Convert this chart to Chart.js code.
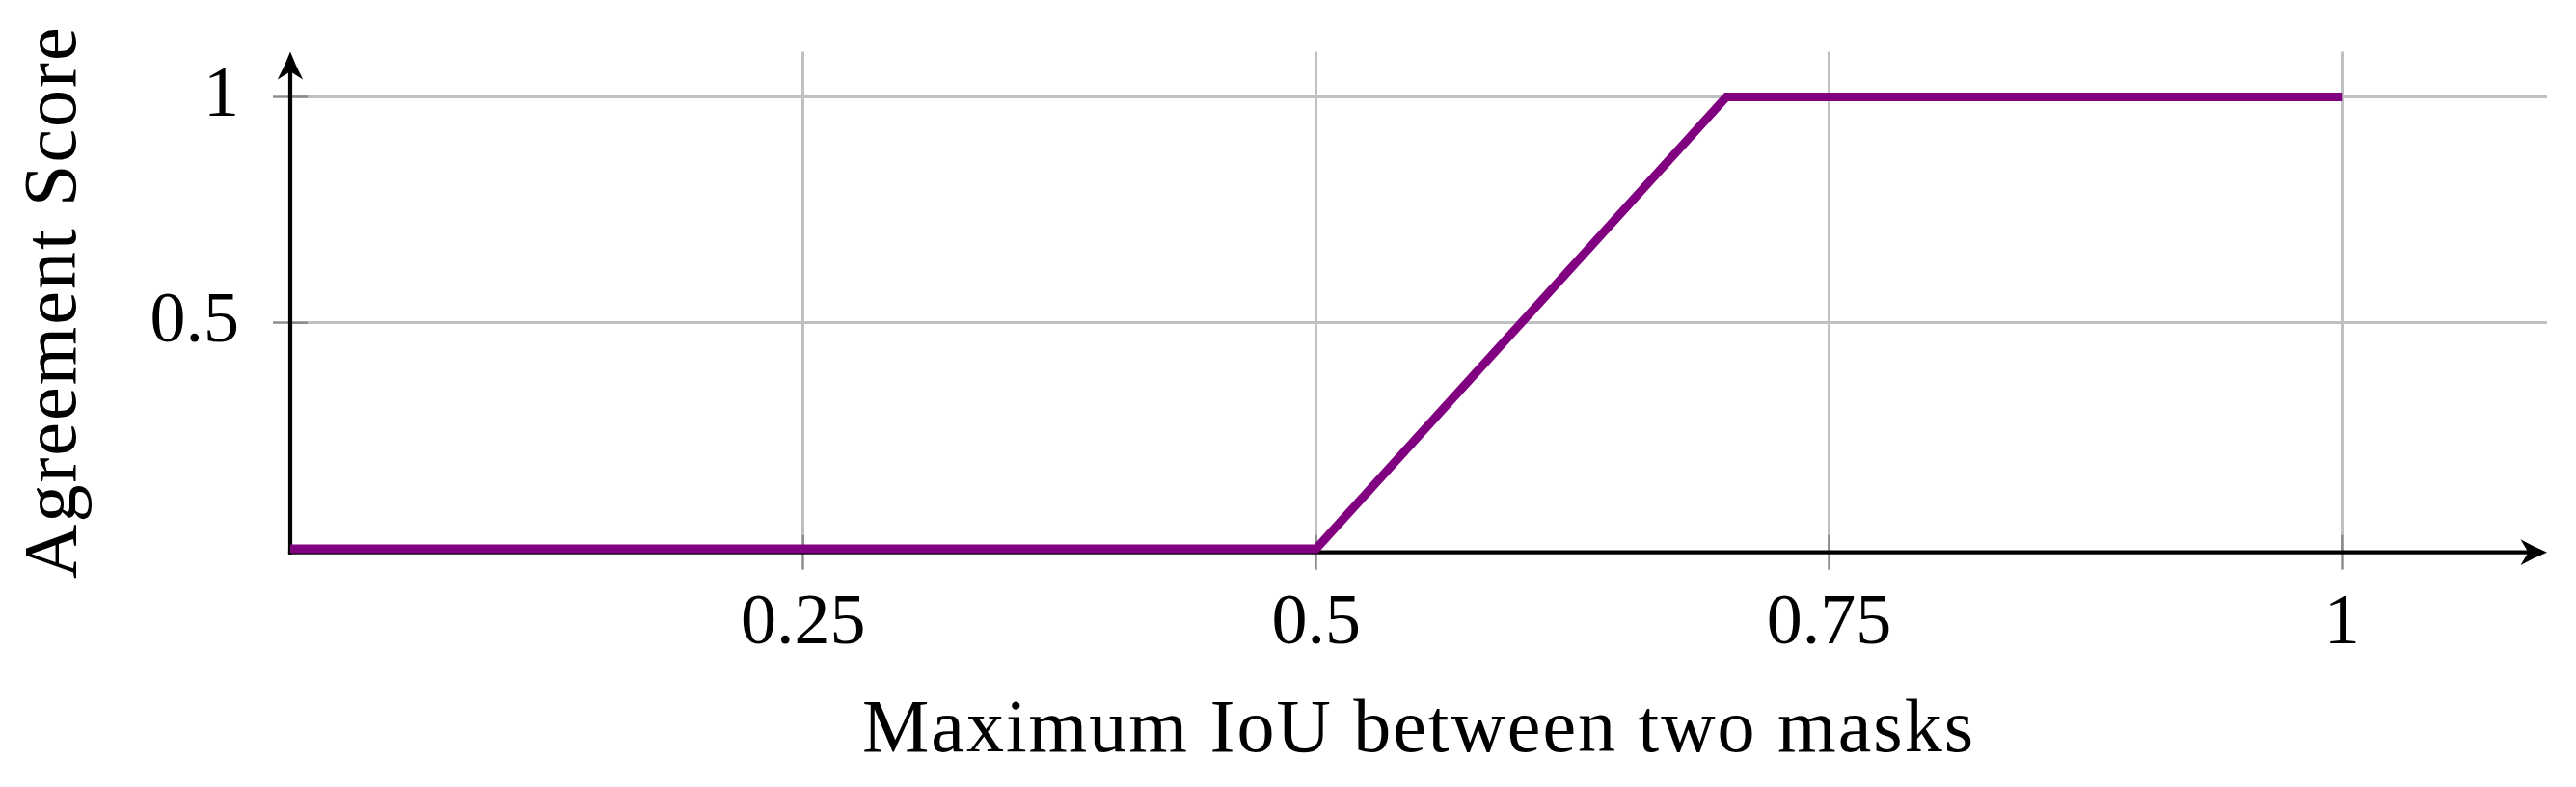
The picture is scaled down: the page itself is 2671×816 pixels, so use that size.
<!DOCTYPE html>
<html><head><meta charset="utf-8">
<script src="https://cdn.jsdelivr.net/npm/chart.js@4/dist/chart.umd.min.js"></script>
<style>html,body{margin:0;padding:0;background:#fff;} canvas{display:block;}</style>
</head><body>
<canvas id="c" width="2671" height="816" style="width:2671px;height:816px"></canvas>
<script>
const xValues = [0, 0.5, 0.7, 1];
const yValues = [0, 0, 1, 1];
const xTickValues = [0.25, 0.5, 0.75, 1];
const xTickLabels = ['0.25', '0.5', '0.75', '1'];
const yTickValues = [0.5, 1];
const yTickLabels = ['0.5', '1'];
const xTitle = 'Maximum IoU between two masks';
const yTitle = 'Agreement Score';
const seriesName = 'Agreement';

const FONT = "'Liberation Serif', 'Times New Roman', serif";
const TICK_FS = 74;
const TITLE_FS = 78;
const TITLE_SPACING = '2px';
const TICK_LEN = 18;

const points = xValues.map((v, i) => ({x: v, y: yValues[i]}));

function drawArrow(ctx, tx, ty, angle, L, W, notch) {
  ctx.save();
  ctx.translate(tx, ty);
  ctx.rotate(angle);
  ctx.beginPath();
  ctx.moveTo(0, 0);
  ctx.quadraticCurveTo(-L * 0.5, -W * 0.42, -L, -W);
  ctx.lineTo(-L + notch, 0);
  ctx.lineTo(-L, W);
  ctx.quadraticCurveTo(-L * 0.5, W * 0.42, 0, 0);
  ctx.closePath();
  ctx.fillStyle = '#000';
  ctx.fill();
  ctx.restore();
}

const axesPlugin = {
  id: 'axesArrows',
  beforeDraw(chart) {
    ['x', 'y'].forEach(id => {
      const s = chart.scales[id];
      if (s && !s._spacingPatched) {
        const orig = s.drawTitle.bind(s);
        s.drawTitle = function () {
          const c = this.ctx;
          c.save();
          c.letterSpacing = TITLE_SPACING;
          orig();
          c.restore();
        };
        s._spacingPatched = true;
      }
    });
  },
  beforeDatasetsDraw(chart) {
    const {ctx, chartArea: {left, right, top, bottom}, scales: {x, y}} = chart;
    ctx.save();
    ctx.strokeStyle = '#8a8a8a';
    ctx.lineWidth = 2.4;
    xTickValues.forEach(v => {
      const px = x.getPixelForValue(v);
      ctx.beginPath(); ctx.moveTo(px, bottom); ctx.lineTo(px, bottom - TICK_LEN); ctx.stroke();
    });
    yTickValues.forEach(v => {
      const py = y.getPixelForValue(v);
      ctx.beginPath(); ctx.moveTo(left, py); ctx.lineTo(left + TICK_LEN, py); ctx.stroke();
    });
    ctx.strokeStyle = '#000';
    ctx.lineWidth = 4.2;
    ctx.beginPath(); ctx.moveTo(left - 2.1, bottom); ctx.lineTo(right - 12, bottom); ctx.stroke();
    ctx.beginPath(); ctx.moveTo(left, bottom + 2.1); ctx.lineTo(left, top + 12); ctx.stroke();
    drawArrow(ctx, right, bottom, 0, 27.5, 13.4, 8);
    drawArrow(ctx, left, top, -Math.PI / 2, 29, 13.2, 8.4);
    ctx.restore();
  }
};

new Chart(document.getElementById('c'), {
  type: 'line',
  data: {
    datasets: [{
      label: seriesName,
      data: points,
      borderColor: '#800080',
      borderWidth: 9,
      pointRadius: 0,
      tension: 0,
      fill: false,
      clip: false,
      borderJoinStyle: 'miter',
      borderCapStyle: 'butt'
    }]
  },
  options: {
    responsive: false,
    animation: false,
    devicePixelRatio: 1,
    layout: {padding: {left: 0, right: 30, top: 53.6, bottom: 0}},
    plugins: {legend: {display: false}, tooltip: {enabled: false}},
    scales: {
      x: {
        type: 'linear',
        min: 0, max: 1.1,
        afterBuildTicks: s => { s.ticks = xTickValues.map(v => ({value: v})); },
        afterFit: s => { s.height = 816 - 572.7; s.paddingLeft = 0; s.paddingRight = 0; s.paddingTop = 0; s.paddingBottom = 0; },
        ticks: {
          color: '#000',
          font: {family: FONT, size: TICK_FS},
          padding: 12,
          maxRotation: 0,
          autoSkip: false,
          callback: (v) => xTickLabels[xTickValues.indexOf(v)]
        },
        grid: {color: '#c0c0c0', lineWidth: 3, drawTicks: true, tickLength: TICK_LEN, tickColor: '#8a8a8a', tickWidth: 2.4},
        border: {display: false},
        title: {display: true, text: xTitle, color: '#000', font: {family: FONT, size: TITLE_FS, lineHeight: 1.2}, padding: {top: 0, bottom: 10.5}}
      },
      y: {
        type: 'linear',
        min: -0.008, max: 1.1,
        afterBuildTicks: s => { s.ticks = yTickValues.map(v => ({value: v})); },
        afterFit: s => { s.width = 301; s.paddingLeft = 0; s.paddingRight = 0; s.paddingTop = 0; s.paddingBottom = 0; },
        ticks: {
          color: '#000',
          font: {family: FONT, size: TICK_FS},
          padding: 35,
          autoSkip: false,
          callback: (v) => yTickLabels[yTickValues.indexOf(v)]
        },
        grid: {color: '#c0c0c0', lineWidth: 3, drawTicks: true, tickLength: TICK_LEN, tickColor: '#8a8a8a', tickWidth: 2.4},
        border: {display: false},
        title: {display: true, text: yTitle, color: '#000', font: {family: FONT, size: TITLE_FS, lineHeight: 1.2}, padding: {top: 11, bottom: 0}}
      }
    }
  },
  plugins: [axesPlugin]
});
</script>
</body></html>
